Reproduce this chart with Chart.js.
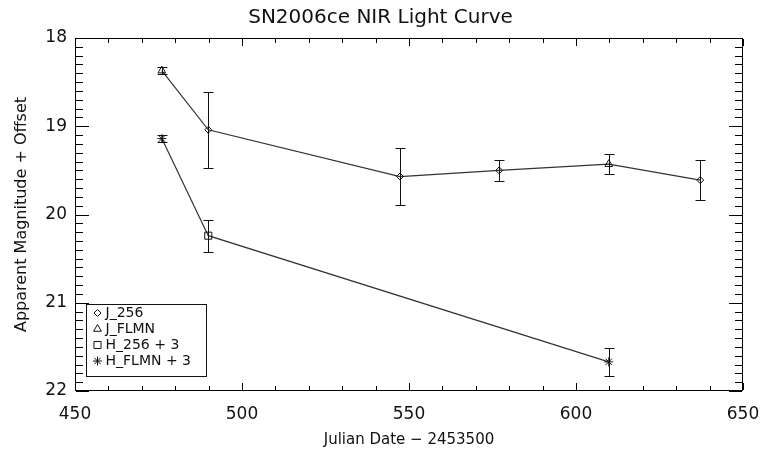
<!DOCTYPE html>
<html>
<head>
<meta charset="utf-8">
<script src="https://cdn.jsdelivr.net/npm/chart.js@4.4.1/dist/chart.umd.min.js"></script>
<style>
  body { margin: 0; background: #fff; }
</style>
</head>
<body>
<canvas id="myChart" width="761" height="453"></canvas>
<script>
// J band, 256 filter
var j256Dates = [489.9, 547.3, 577.0, 637.2];
var j256Mags = [19.04, 19.57, 19.50, 19.61];
var j256Errs = [0.43, 0.32, 0.12, 0.23];

// J band, FLMN
var jFlmnDates = [476.0, 609.8];
var jFlmnMags = [18.37, 19.43];
var jFlmnErrs = [0.04, 0.11];

// H band (already shifted by +3)
var h256Dates = [489.9];
var h256Mags = [20.24];
var h256Errs = [0.18];

var hFlmnDates = [476.0, 609.8];
var hFlmnMags = [19.14, 21.67];
var hFlmnErrs = [0.04, 0.16];

var xTicks = [450, 500, 550, 600, 650];
var yTicks = [18, 19, 20, 21, 22];

var FONT = "'DejaVu Sans', sans-serif";
var INK = '#111';

function toPoints(dates, mags) {
  return dates.map(function (d, i) { return { x: d, y: mags[i] }; });
}

// one connecting line per band, through both instruments, in date order
function bandLine(a, b) {
  return a.concat(b).sort(function (p, q) { return p.x - q.x; });
}

function markerSet(label, dates, mags, errs, style, radius) {
  return {
    type: 'scatter',
    label: label,
    data: toPoints(dates, mags),
    errors: errs,
    pointStyle: style,
    pointRadius: radius,
    pointHoverRadius: radius,
    pointBorderWidth: 1,
    borderColor: INK,
    backgroundColor: 'rgba(255,255,255,0)',
    showLine: false,
    order: 1
  };
}

var jLine = bandLine(toPoints(j256Dates, j256Mags), toPoints(jFlmnDates, jFlmnMags));
var hLine = bandLine(toPoints(h256Dates, h256Mags), toPoints(hFlmnDates, hFlmnMags));

var markers = [
  markerSet('J_256', j256Dates, j256Mags, j256Errs, 'rectRot', 3.5),
  markerSet('J_FLMN', jFlmnDates, jFlmnMags, jFlmnErrs, 'triangle', 4.5),
  markerSet('H_256 + 3', h256Dates, h256Mags, h256Errs, 'rect', 5),
  markerSet('H_FLMN + 3', hFlmnDates, hFlmnMags, hFlmnErrs, 'star', 4.5)
];

function lineSet(pts) {
  return {
    type: 'line',
    data: pts,
    borderColor: '#333',
    borderWidth: 1.2,
    pointRadius: 0,
    fill: false,
    tension: 0,
    order: 2
  };
}

// box plus inward ticks on all four sides, as 1px filled strips
var frameTicks = {
  id: 'frameTicks',
  afterDraw: function (chart) {
    var ctx = chart.ctx, a = chart.chartArea;
    var xs = chart.scales.x, ys = chart.scales.y;
    var L = Math.round(a.left), R = Math.round(a.right) - 1;
    var T = Math.round(a.top), B = Math.round(a.bottom) - 1;
    ctx.save();
    ctx.fillStyle = '#000';
    ctx.fillRect(L, T, R - L + 1, 1);
    ctx.fillRect(L, B, R - L + 1, 1);
    ctx.fillRect(L, T, 1, B - T + 1);
    ctx.fillRect(R, T, 1, B - T + 1);
    var i, v, px, py, len;
    for (i = 0; i <= 20; i++) {
      v = xTicks[0] + i * 10;
      px = Math.round(xs.getPixelForValue(v));
      len = (i % 5 === 0) ? 7 : 4;
      ctx.fillRect(px, B - len, 1, len);
      ctx.fillRect(px, T + 1, 1, len);
    }
    for (i = 0; i <= 40; i++) {
      v = yTicks[0] + i / 10;
      py = Math.round(ys.getPixelForValue(v));
      len = (i % 10 === 0) ? 13 : 7;
      ctx.fillRect(L + 1, py, len, 1);
      ctx.fillRect(R - len, py, len, 1);
    }
    ctx.restore();
  }
};

var errorBars = {
  id: 'errorBars',
  afterDatasetsDraw: function (chart) {
    var ctx = chart.ctx, xs = chart.scales.x, ys = chart.scales.y;
    ctx.save();
    ctx.strokeStyle = INK;
    ctx.lineWidth = 1;
    ctx.beginPath();
    chart.data.datasets.forEach(function (ds) {
      if (!ds.errors) return;
      ds.data.forEach(function (p, i) {
        var x = Math.round(xs.getPixelForValue(p.x)) + 0.5;
        var y1 = Math.round(ys.getPixelForValue(p.y - ds.errors[i])) + 0.5;
        var y2 = Math.round(ys.getPixelForValue(p.y + ds.errors[i])) + 0.5;
        ctx.moveTo(x, y1); ctx.lineTo(x, y2);
        ctx.moveTo(x - 5, y1); ctx.lineTo(x + 5, y1);
        ctx.moveTo(x - 5, y2); ctx.lineTo(x + 5, y2);
      });
    });
    ctx.stroke();
    ctx.restore();
  }
};

// boxed key in the lower left corner of the plot
var boxLegend = {
  id: 'boxLegend',
  afterDraw: function (chart) {
    var ctx = chart.ctx, a = chart.chartArea;
    var left = Math.round(a.left) + 11.5, top = Math.round(a.bottom) - 86.5;
    var w = 120, h = 72;
    ctx.save();
    ctx.lineWidth = 1;
    ctx.strokeStyle = INK;
    ctx.fillStyle = '#fff';
    ctx.fillRect(left, top, w, h);
    ctx.strokeRect(left, top, w, h);
    ctx.font = '14px ' + FONT;
    ctx.textBaseline = 'middle';
    markers.forEach(function (ds, i) {
      var y = top + 8.5 + i * 16;
      ctx.fillStyle = '#fff';
      ctx.strokeStyle = INK;
      Chart.helpers.drawPoint(ctx, {
        pointStyle: ds.pointStyle,
        radius: ds.pointRadius,
        borderWidth: 1
      }, left + 11, y);
      ctx.fillStyle = INK;
      ctx.fillText(ds.label, left + 19, y);
    });
    ctx.restore();
  }
};

new Chart('myChart', {
  data: {
    datasets: markers.concat([lineSet(jLine), lineSet(hLine)])
  },
  plugins: [frameTicks, errorBars, boxLegend],
  options: {
    responsive: false,
    animation: false,
    layout: { padding: 0 },
    plugins: {
      legend: { display: false },
      tooltip: { enabled: false },
      title: {
        display: true,
        text: 'SN2006ce NIR Light Curve',
        color: INK,
        font: { family: FONT, size: 20, weight: 'normal' },
        padding: { top: 6, bottom: 8 }
      }
    },
    scales: {
      x: {
        type: 'linear',
        min: xTicks[0],
        max: xTicks[xTicks.length - 1],
        afterBuildTicks: function (s) { s.ticks = xTicks.map(function (v) { return { value: v }; }); },
        afterFit: function (s) {
          s.height = 62;
          s.paddingLeft = 0;
          s.paddingRight = 18;
        },
        grid: { display: false, drawTicks: false },
        border: { display: false },
        ticks: { color: INK, font: { family: FONT, size: 17 }, padding: 13, maxRotation: 0 },
        title: {
          display: true,
          text: 'Julian Date \u2212 2453500',
          color: INK,
          font: { family: FONT, size: 15 },
          padding: { top: 0, bottom: 4 }
        }
      },
      y: {
        type: 'linear',
        reverse: true,
        min: yTicks[0],
        max: yTicks[yTicks.length - 1],
        afterBuildTicks: function (s) { s.ticks = yTicks.map(function (v) { return { value: v }; }); },
        afterFit: function (s) { s.width = 75; },
        grid: { display: false, drawTicks: false },
        border: { display: false },
        ticks: { color: INK, font: { family: FONT, size: 17 }, padding: 8 },
        title: {
          display: true,
          text: 'Apparent Magnitude + Offset',
          color: INK,
          font: { family: FONT, size: 16 },
          padding: { top: 12, bottom: 0 }
        }
      }
    }
  }
});
</script>
</body>
</html>
